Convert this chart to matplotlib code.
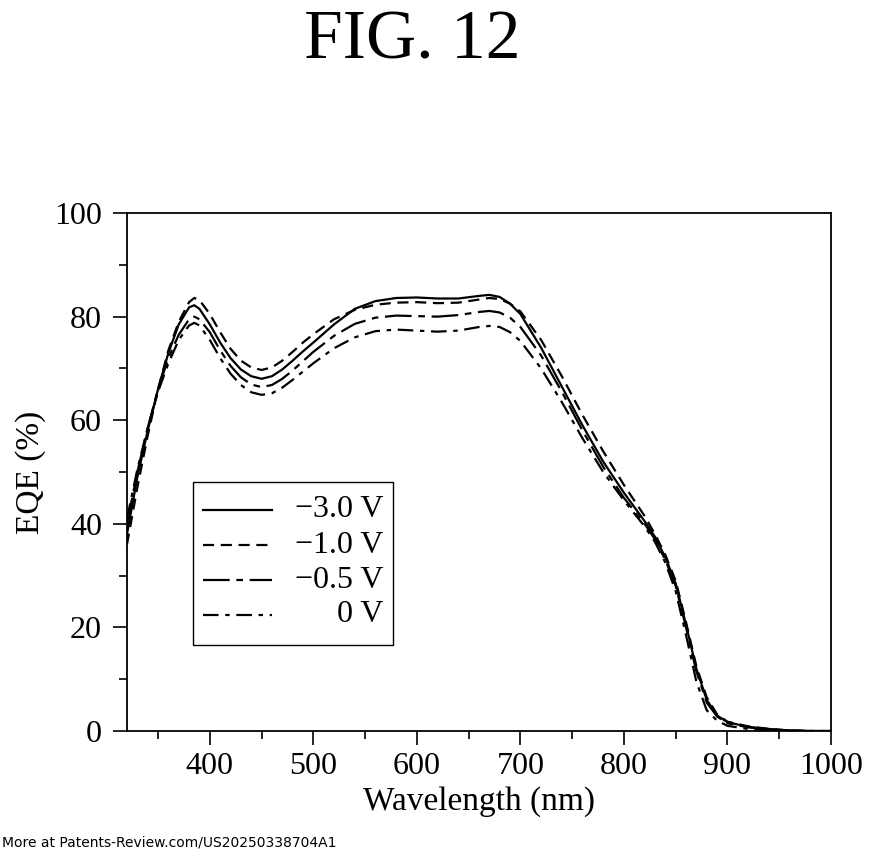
import matplotlib
matplotlib.use("Agg")
from matplotlib import pyplot as plt
from matplotlib.patches import Rectangle
from matplotlib.lines import Line2D
from matplotlib.ticker import MultipleLocator
import numpy as np

# wavelength grid (nm)
wavelength = [320, 330, 340, 350, 360, 370, 380, 385, 390, 400, 410, 420, 430, 440,
              450, 460, 470, 480, 490, 500, 520, 540, 560, 580, 600, 620, 640, 660,
              670, 680, 690, 700, 720, 740, 760, 780, 800, 820, 830, 840, 850, 860,
              870, 880, 890, 900, 920, 940, 960, 980, 1000]

eqe_m3v = [38, 49, 58, 66, 73, 78.5, 81.8, 82.2, 81.5, 78.5, 75, 72, 69.8, 68.5,
           68, 68.5, 69.8, 71.5, 73.3, 75, 78.5, 81.5, 83, 83.6, 83.7, 83.5, 83.5, 84,
           84.2, 83.8, 82.5, 80.5, 74, 66.5, 59, 52, 46, 40.5, 37.5, 33.5, 28.5, 20.5,
           12, 6, 3, 1.7, 0.8, 0.4, 0.1, 0, 0]

eqe_m1v = [36, 47, 57, 66, 73.5, 79, 82.8, 83.6, 83.2, 80.5, 77, 73.8, 71.5, 70.2,
           69.7, 70.2, 71.5, 73.2, 75, 76.6, 79.5, 81.3, 82.3, 82.7, 82.8, 82.6, 82.7, 83.3,
           83.6, 83.4, 82.5, 81, 75.5, 68.5, 61, 54, 47.5, 41.5, 38, 34, 29, 21,
           12.5, 6.5, 3.2, 1.8, 0.9, 0.4, 0.1, 0, 0]

eqe_m05v = [40, 50, 58.5, 66, 72, 76.5, 79.5, 80, 79.5, 77, 73.5, 70.5, 68.3, 66.9,
            66.4, 66.8, 68, 69.6, 71.4, 73.2, 76.3, 78.6, 79.8, 80.2, 80.1, 80, 80.3, 80.9,
            81.1, 80.8, 79.8, 78, 72.5, 65.5, 58, 51, 45, 40, 37, 33, 28, 20,
            11.5, 5.5, 2.8, 1.5, 0.7, 0.3, 0.1, 0, 0]

eqe_0v = [41, 50.5, 58.5, 65.5, 71, 75.5, 78.3, 78.8, 78.3, 75.5, 72, 69, 66.8, 65.4,
          64.9, 65.2, 66.3, 67.8, 69.4, 71, 73.9, 76, 77.2, 77.5, 77.3, 77.1, 77.3, 78,
          78.2, 78, 77, 75.3, 70, 63.5, 56.5, 50, 44.5, 39.5, 36.5, 32.5, 27, 18.5,
          9.5, 4, 2, 1, 0.4, 0.2, 0, 0, 0]

labels = ["\u22123.0 V", "\u22121.0 V", "\u22120.5 V", "0 V"]
series = [eqe_m3v, eqe_m1v, eqe_m05v, eqe_0v]
styles = ["-", (0, (5, 3)), (0, (12, 3, 3, 3)), (0, (7, 3, 2, 3))]

serif = "Liberation Serif"

fig = plt.figure(figsize=(8.8, 8.58), dpi=100)
ax = fig.add_axes([0.1443, 0.148, 0.8, 0.6037])

# draw the curves
for values, ls in zip(series, styles):
    ax.plot(wavelength, values, color="black", linestyle=ls, linewidth=1.6)

ax.set_xlim(320, 1000)
ax.set_ylim(0, 100)
ax.xaxis.set_major_locator(MultipleLocator(100))
ax.xaxis.set_minor_locator(MultipleLocator(50))
ax.yaxis.set_major_locator(MultipleLocator(20))
ax.yaxis.set_minor_locator(MultipleLocator(10))

ax.tick_params(axis="both", which="major", direction="out", length=10, width=1.2,
               labelsize=23)
ax.tick_params(axis="both", which="minor", direction="out", length=6, width=1.2)
ax.tick_params(axis="y", which="major", pad=8)
ax.tick_params(axis="x", which="major", pad=5)
for lab in ax.get_xticklabels() + ax.get_yticklabels():
    lab.set_fontfamily(serif)

for spine in ax.spines.values():
    spine.set_linewidth(1.3)

ax.set_xlabel("Wavelength (nm)", fontsize=24, family=serif, labelpad=4)
ax.set_ylabel("EQE (%)", fontsize=24, family=serif, labelpad=6)

# legend box drawn by hand so the labels can be right aligned
ax.add_patch(Rectangle((0.094, 0.166), 0.284, 0.315, transform=ax.transAxes,
                       fill=False, edgecolor="black", linewidth=1.0))
row_y = [0.427, 0.359, 0.2915, 0.224]
for label, ls, yy in zip(labels, styles, row_y):
    ax.add_line(Line2D([0.108, 0.206], [yy, yy], transform=ax.transAxes,
                       color="black", linestyle=ls, linewidth=1.6))
    ax.text(0.364, yy, label, transform=ax.transAxes, ha="right", va="center",
            fontsize=23, family=serif)

fig.text(0.469, 0.951, "FIG. 12", ha="center", va="center", fontsize=50, family=serif)
fig.text(0.002, 0.0175, "More at Patents-Review.com/US20250338704A1", ha="left",
         va="center", fontsize=10, family="DejaVu Sans")

fig.savefig("out.png", dpi=100)
